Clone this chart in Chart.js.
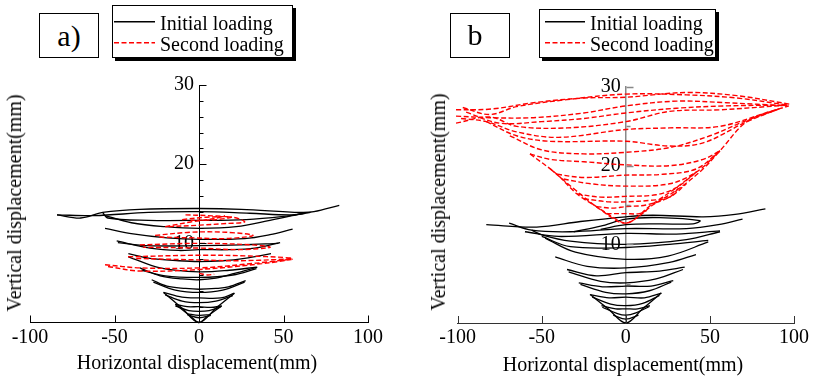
<!DOCTYPE html>
<html><head><meta charset="utf-8">
<script src="https://cdn.jsdelivr.net/npm/chart.js@4.4.1/dist/chart.umd.min.js"></script>
<style>
html,body{margin:0;padding:0;background:#fff;}
#wrap{position:relative;width:813px;height:378px;overflow:hidden;font-family:"Liberation Serif","Times New Roman",serif;color:#000;}
canvas{position:absolute;top:0;}
.box{position:absolute;border:1px solid #000;box-sizing:border-box;background:#fff;}
.shadow{box-shadow:3px 3px 0 #000;}
.t{position:absolute;white-space:nowrap;font-size:20px;line-height:23px;}
.tag{position:absolute;white-space:nowrap;font-size:30px;line-height:30px;transform:translateX(-50%);}
.ytitle{position:absolute;font-size:20px;white-space:nowrap;line-height:20px;transform:translate(-50%,-50%) rotate(-90deg);}
.xtitle{position:absolute;font-size:20px;white-space:nowrap;line-height:23px;transform:translateX(-50%);}
svg{position:absolute;overflow:visible;}
</style></head>
<body>
<div id="wrap">
  <canvas id="ca" width="410" height="378" style="left:0"></canvas>
  <canvas id="cb" width="403" height="378" style="left:410px"></canvas>

  <div class="box" style="left:39px;top:13px;width:60px;height:45px;"></div>
  <div class="tag" style="left:69px;top:21px;">a)</div>
  <div class="box shadow" style="left:112px;top:5px;width:181px;height:53px;"></div>
  <svg style="left:114px;top:12px;" width="42" height="40">
    <line x1="0" y1="9.7" x2="41" y2="9.7" stroke="#000" stroke-width="1.5"/>
    <line x1="0" y1="30.7" x2="41" y2="30.7" stroke="#f00" stroke-width="1.5" stroke-dasharray="5,2.5"/>
  </svg>
  <div class="t" style="left:160px;top:12px;">Initial loading</div>
  <div class="t" style="left:160px;top:33px;">Second loading</div>

  <div class="box" style="left:450px;top:13px;width:60px;height:45px;"></div>
  <div class="tag" style="left:475px;top:20px;">b</div>
  <div class="box shadow" style="left:539px;top:9px;width:177px;height:49px;"></div>
  <svg style="left:545px;top:12px;" width="42" height="40">
    <line x1="0" y1="9.7" x2="40" y2="9.7" stroke="#000" stroke-width="1.5"/>
    <line x1="0" y1="30.7" x2="40" y2="30.7" stroke="#f00" stroke-width="1.5" stroke-dasharray="5,2.5"/>
  </svg>
  <div class="t" style="left:590px;top:12px;">Initial loading</div>
  <div class="t" style="left:590px;top:33px;">Second loading</div>

  <div class="ytitle" style="left:14px;top:203px;">Vertical displacement(mm)</div>
  <div class="ytitle" style="left:438px;top:202px;">Vertical displacement(mm)</div>
  <div class="xtitle" style="left:197px;top:351px;">Horizontal displacement(mm)</div>
  <div class="xtitle" style="left:623px;top:353px;">Horizontal displacement(mm)</div>
</div>
<script>
// ---- tick values ----
const xTickValues = [-100, -50, 0, 50, 100];
const yTickValues = [0, 10, 20, 30];

// ---- panel a) : initial loading profiles [x, y] (mm) ----
const aInit01 = [[-84,13.6],[-70,13.2],[-57,13.9],[-35,14.3],[0,14.4],[25,14.3],[60,13.9],[68,14.0],[83,14.8]];
const aInit02 = [[-84,13.6],[-62,13.5],[-30,13.9],[0,14.0],[30,13.8],[55,13.6],[66,13.9]];
const aInit03 = [[-57,13.9],[-54,13.2],[-30,12.9],[0,12.9],[28,13.0],[50,13.4],[63,13.8]];
const aInit04 = [[-57,13.6],[-40,12.6],[-20,12.1],[0,11.9],[22,12.1],[42,12.9],[62,13.8]];
const aInit05 = [[-55.6,11.9],[-39,11.2],[-19,10.7],[0,10.5],[27,10.6],[42,11.1],[55.4,11.8]];
const aInit06 = [[-48.7,10.3],[-29,9.4],[-12,9.1],[0,9.2],[18,9.2],[33,9.4],[48,10.1]];
const aInit07 = [[-48,10.1],[-30,9.7],[0,9.7],[25,9.8],[47,10.0]];
const aInit08 = [[-41.8,8.7],[-29,8.1],[-12,7.8],[0,7.7],[14,7.8],[27,8.1],[42.6,8.7]];
const aInit09 = [[-41.8,8.3],[-23,6.9],[0,6.4],[18,6.6],[34,7.0]];
const aInit10 = [[-35,6.9],[-23,5.9],[-10,5.5],[0,5.4],[10,5.6],[21,6.2],[34.5,7.0]];
const aInit11 = [[-34,6.6],[-20,5.9],[0,5.7],[20,6.0],[34,6.8]];
const aInit12 = [[-28,5.4],[-19,4.6],[-8,4.3],[0,4.2],[10,4.3],[17.4,4.5],[27.6,5.3]];
const aInit13 = [[-27,5.1],[-14,4.1],[0,3.8],[14,4.1],[27,5.1]];
const aInit14 = [[-21,3.8],[-10,3.2],[0,3.1],[13,3.1],[20.9,3.7]];
const aInit15 = [[-20,3.5],[-10,2.7],[0,2.5],[10,2.7],[20,3.4]];
const aInit16 = [[-14,2.3],[-7,2.0],[0,2.0],[7,1.9],[13.4,2.1]];
const aInit17 = [[-14,2.1],[-6,1.5],[0,1.4],[6,1.5],[13,2.0]];
const aInit18 = [[-7,1.1],[0,0.9],[7,1.0]];
const aInit19 = [[-7,1.0],[0,0.6],[7,0.9]];
const aInit20 = [[-21,3.8],[-10,1.8],[0,0],[10,1.8],[21,3.7]];
const aInit21 = [[-14,2.3],[-5,0.8],[0,0],[5,0.8],[13.4,2.1]];

// ---- panel a) : second loading profiles ----
const aSec01 = [[-20,12.1],[-5,12.7],[8.5,13.1],[15.4,13.5]];
const aSec02 = [[-10,13.0],[4.5,13.3],[20,13.3],[27,12.7],[16,12.5],[0.6,12.3],[-19,12.1]];
const aSec03 = [[-8,13.6],[5,13.5],[19,13.3],[10,13.0],[-5,12.9]];
const aSec04 = [[-26,11.0],[-5,11.4],[16,11.4],[32,11.0],[16,10.6],[-5,10.7],[-25,10.8]];
const aSec05 = [[-35,9.8],[0.6,10.0],[32,9.8],[42,9.5],[24,9.2],[0.6,9.4],[-33,9.5]];
const aSec06 = [[-42,8.3],[0.6,8.5],[30,8.4],[55,8.1],[24,7.8],[0.6,7.9],[-39,8.1]];
const aSec07 = [[-55.6,7.3],[-35,6.9],[0.6,6.9],[34,7.5],[55,8.0],[40,7.5],[0.6,6.7],[-35,6.5],[-54.6,7.1]];
const aSec08 = [[0,6.2],[5,6.0],[9,6.1]];

// ---- panel b : initial loading profiles ----
const bInit01 = [[-83,12.5],[-53,12.2],[-27,12.9],[0,13.5],[16,13.7],[46,13.5],[65,13.8],[83,14.5]];
const bInit02 = [[-69.4,12.7],[-56,11.8],[-33,11.6],[0,12.0],[36,12.0],[55,12.5],[69.4,13.2]];
const bInit03 = [[-31,11.6],[-15,12.3],[0,13.2],[20,13.4],[44,13.0],[40,12.6],[20,12.6],[0,12.5],[-15,11.9]];
const bInit04 = [[-56,11.8],[-50,11.2],[-33,10.4],[0,10.0],[36,10.6],[56,11.6]];
const bInit05 = [[-50,11.0],[-33,9.7],[0,9.6],[26,10.0],[49,10.5]];
const bInit06 = [[-60,11.6],[-40,11.0],[0,11.4],[30,11.3],[56,11.7]];
const bInit07 = [[-48,10.8],[-30,9.0],[0,8.1],[25,8.5],[49,10.3]];
const bInit08 = [[-42,8.4],[-23,7.2],[0,7.0],[26,7.7],[41.7,8.7]];
const bInit09 = [[-35,6.8],[-17.5,6.0],[0,6.4],[20,6.6],[35,7.1]];
const bInit10 = [[-34,6.5],[-15,5.3],[0,5.1],[18,5.6],[34,6.8]];
const bInit11 = [[-28,5.1],[-14,4.6],[0,4.7],[15,4.7],[28.2,5.4]];
const bInit12 = [[-27,4.9],[-12,3.9],[0,3.7],[14,4.1],[27,5.2]];
const bInit13 = [[-21.4,3.6],[-10,3.2],[0,3.3],[11,3.2],[21.2,3.8]];
const bInit14 = [[-20,3.3],[-9,2.4],[0,2.2],[10,2.5],[20,3.5]];
const bInit15 = [[-14.5,2.2],[-6,1.8],[0,1.8],[7,1.8],[14.3,2.2]];
const bInit16 = [[-14,2.0],[-5,1.2],[0,1.0],[6,1.3],[14,2.1]];
const bInit17 = [[-7.5,1.0],[0,0.5],[7.5,1.0]];
const bInit18 = [[-21,3.6],[-10,1.7],[0,0],[10,1.8],[21,3.8]];

// ---- panel b : second loading profiles ----
const bSec01 = [[-97,27.4],[-81,26.5],[-65,27.5],[-35,28.4],[0,29.1],[36,29.0],[66,28.6],[96,27.7]];
const bSec02 = [[-101,27.1],[-80,27.2],[-55,28.0],[-25,28.6],[0,28.7],[36,29.3],[66,28.9],[98,27.8]];
const bSec03 = [[-101,26.3],[-81,26.1],[-55,26.1],[-25,26.7],[0,27.6],[30,28.2],[60,28.0],[96,27.6]];
const bSec04 = [[-95,26.8],[-75,25.4],[-50,25.6],[-25,26.0],[0,26.7],[30,27.3],[60,27.6],[96,27.7]];
const bSec05 = [[-101,25.4],[-81,26.2],[-65,25.0],[-35,24.8],[0,25.6],[26,26.9],[56,27.1],[96,27.7]];
const bSec06 = [[-98,26.0],[-83,25.6],[-65,24.3],[-40,23.6],[0,24.6],[26,24.8],[56,25.0],[86,26.9],[97,27.6]];
const bSec07 = [[-83,25.6],[-65,23.8],[-45,23.1],[0,23.1],[26,22.5],[46,22.9],[72,25.6],[92,27.3]];
const bSec08 = [[-69,23.8],[-50,22.0],[-25,21.5],[0,21.7],[26,22.3],[50,23.8],[70,25.6],[90,27.1]];
const bSec09 = [[-57,21.5],[-45,20.8],[-25,20.5],[0,20.1],[26,20.0],[46,20.8],[56,21.9]];
const bSec10 = [[-41,18.9],[-25,18.5],[0,18.8],[22,18.9],[42,19.6],[56,21.9]];
const bSec11 = [[-37,18.3],[-21,17.7],[0,17.4],[26,17.7],[42,19.2],[56,21.9]];
const bSec12 = [[-29,16.4],[-15,16.0],[0,16.1],[18,16.3],[30,17.2],[42,19.2]];
const bSec13 = [[-25,15.8],[-10,15.4],[0,15.4],[15,15.6],[26,16.0],[36,17.7]];
const bSec14 = [[-17.5,14.8],[-8,14.6],[0,14.8],[12,15.0],[26,16.0],[32,17.3]];
const bSec15 = [[-11.5,13.9],[0,13.9],[8,13.9],[12.3,14.3]];
const bSec16 = [[-57,21.5],[-41,18.9],[-29,16.4],[-17.5,14.8],[-8,13.5],[0,12.7],[8,13.6],[16,15.0],[26,16.3],[36,17.8],[46,19.6],[56,21.9],[72,25.6],[92,27.3]];
const bSec17 = [[-45,19.6],[-30,16.9],[-15,14.4],[0,12.7],[15,15.0],[30,17.2],[42,19.2]];

const aInitial = [aInit01,aInit02,aInit03,aInit04,aInit05,aInit06,aInit07,aInit08,aInit09,aInit10,aInit11,aInit12,aInit13,aInit14,aInit15,aInit16,aInit17,aInit18,aInit19,aInit20,aInit21];
const aSecond = [aSec01,aSec02,aSec03,aSec04,aSec05,aSec06,aSec07,aSec08];
const bInitial = [bInit01,bInit02,bInit03,bInit04,bInit05,bInit06,bInit07,bInit08,bInit09,bInit10,bInit11,bInit12,bInit13,bInit14,bInit15,bInit16,bInit17,bInit18];
const bSecond = [bSec01,bSec02,bSec03,bSec04,bSec05,bSec06,bSec07,bSec08,bSec09,bSec10,bSec11,bSec12,bSec13,bSec14,bSec15,bSec16,bSec17];

const FONT = {family:'"Liberation Serif","Times New Roman",serif', size:20};

function ds(pts, red){
  return {
    data: pts.map(p => ({x:p[0], y:p[1]})),
    showLine:true, fill:false, clip:false,
    borderColor: red ? '#ff0000' : '#000000',
    borderWidth: red ? 1.4 : 1.3,
    borderDash: red ? [5,2.5] : [],
    pointRadius:0, pointHoverRadius:0,
    tension:0.35
  };
}

const axisDecor = {
  id:'axisDecor',
  afterDraw(chart, args, o){
    const ctx = chart.ctx, xs = chart.scales.x, ys = chart.scales.y;
    const x0 = Math.round(xs.getPixelForValue(0)) + 0.5;
    const yb = ys.getPixelForValue(0);
    ctx.save();
    ctx.lineWidth = 1;
    ctx.strokeStyle = o.xColor;
    ctx.beginPath();
    xs.ticks.forEach(t => {
      const px = Math.round(xs.getPixelForValue(t.value)) + 0.5;
      ctx.moveTo(px, yb); ctx.lineTo(px, yb - 7);
    });
    ctx.stroke();
    ctx.strokeStyle = o.yColor;
    ctx.lineWidth = o.yWidth;
    ctx.beginPath();
    for (let v = o.minor; v <= 30.001; v += o.minor) {
      const py = Math.round(ys.getPixelForValue(v)) + 0.5;
      const len = (Math.abs(v % 10) < 0.001) ? 7 : 4;
      ctx.moveTo(x0, py); ctx.lineTo(x0 + len, py);
    }
    ctx.stroke();
    ctx.restore();
  }
};

function makeChart(id, pad, initial, second, xColor, yColor, yWidth, minor){
  const datasets = second.map(p => ds(p, true)).concat(initial.map(p => ds(p, false)));
  return new Chart(document.getElementById(id), {
    type:'scatter',
    data:{datasets},
    plugins:[axisDecor],
    options:{
      responsive:false, animation:false, devicePixelRatio:1,
      layout:{padding:pad},
      plugins:{legend:{display:false}, tooltip:{enabled:false}, axisDecor:{xColor, yColor, yWidth, minor}},
      scales:{
        x:{type:'linear', min:-100, max:100,
           afterBuildTicks: s => { s.ticks = xTickValues.map(v => ({value:v})); },
           ticks:{color:'#000', font:FONT, padding:3, maxRotation:0},
           grid:{display:false, drawTicks:false},
           border:{display:true, color:xColor, width:1}},
        y:{type:'linear', position:{x:0}, min:0, max:30,
           afterBuildTicks: s => { s.ticks = yTickValues.map(v => ({value:v})); },
           ticks:{color:'#000', font:FONT, padding:4, callback: v => v === 0 ? '' : String(v) + ' '},
           grid:{display:false, drawTicks:false},
           border:{display:true, color:yColor, width:yWidth}}
      }
    }
  });
}

makeChart('ca', {left:30, right:42, top:85, bottom:25.5}, aInitial, aSecond, '#000', '#000', 1, 2);
makeChart('cb', {left:47.7, right:19, top:87, bottom:25}, bInitial, bSecond, '#333', '#888', 1.5, 5);
</script>
</body></html>
